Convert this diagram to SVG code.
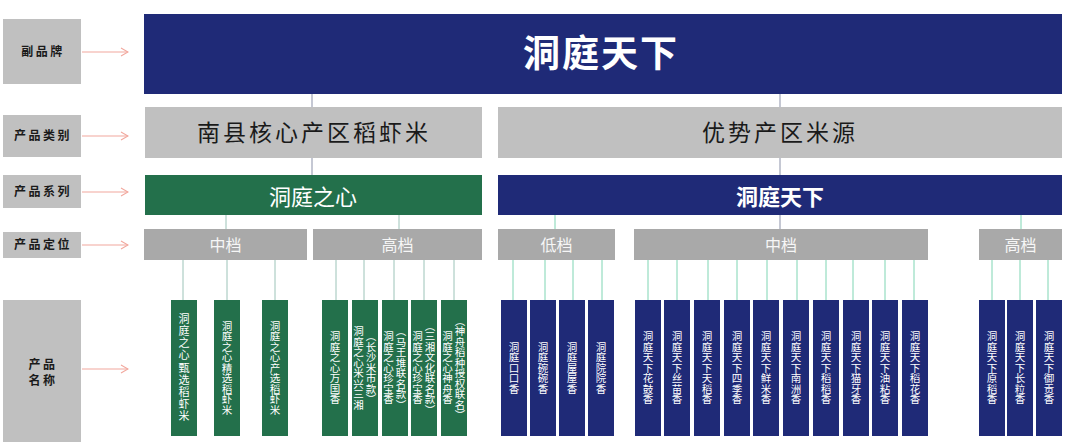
<svg xmlns="http://www.w3.org/2000/svg" width="1080" height="446" viewBox="0 0 1080 446">
<defs>
<style>
text{font-family:"Noto Sans CJK SC","Noto Sans",sans-serif;}
.lbl{fill:#c0c0c0;}
.lt{font-size:12px;font-weight:bold;fill:#1a1a1a;letter-spacing:2.5px;text-anchor:middle;}
.arr{stroke:#f2a79d;stroke-width:1.2;fill:none;}
.navy{fill:#1f2a77;}
.green{fill:#23704b;}
.cat{fill:#c0c0c0;}
.pos{fill:#a9a9a9;}
.ct{font-size:23px;fill:#1a1a1a;letter-spacing:3px;text-anchor:middle;}
.pt{font-size:16px;fill:#f6f6f6;text-anchor:middle;}
.vt{font-size:10.5px;fill:#ffffff;writing-mode:vertical-rl;text-anchor:middle;}
.c1{stroke:#8b91a8;stroke-width:1;}
.c2{stroke:#9cc3b8;stroke-width:1;}
.c3{stroke:#7fd5b3;stroke-width:1;}
</style>
<marker id="chev" viewBox="0 0 10 10" refX="9" refY="5" markerWidth="10" markerHeight="10" orient="auto" markerUnits="userSpaceOnUse">
<path d="M2,1 L9,5 L2,9" fill="none" stroke="#f2a79d" stroke-width="1.1"/>
</marker>
</defs>
<rect width="1080" height="446" fill="#ffffff"/>

<g id="labels">
<g id="label-brand"><rect class="lbl" x="3" y="19" width="78" height="65"/><text class="lt" x="43" y="56">副品牌</text></g>
<g id="label-category"><rect class="lbl" x="3" y="115" width="78" height="42"/><text class="lt" x="43" y="140">产品类别</text></g>
<g id="label-series"><rect class="lbl" x="3" y="175" width="78" height="33"/><text class="lt" x="43" y="196">产品系列</text></g>
<g id="label-position"><rect class="lbl" x="3" y="232" width="78" height="26"/><text class="lt" x="43" y="249">产品定位</text></g>
<g id="label-name"><rect class="lbl" x="3" y="300" width="78" height="142"/><text class="lt" x="43" y="369">产品</text><text class="lt" x="43" y="385">名称</text></g>
</g>

<g id="connectors">
<line class="arr" x1="82" y1="52" x2="128" y2="52" marker-end="url(#chev)"/>
<line class="arr" x1="82" y1="136" x2="128" y2="136" marker-end="url(#chev)"/>
<line class="arr" x1="82" y1="192" x2="128" y2="192" marker-end="url(#chev)"/>
<line class="arr" x1="82" y1="245" x2="128" y2="245" marker-end="url(#chev)"/>
<line class="arr" x1="82" y1="369" x2="128" y2="369" marker-end="url(#chev)"/>
<line class="c1" x1="312" y1="94" x2="312" y2="107"/>
<line class="c1" x1="312" y1="158" x2="312" y2="175"/>
<line class="c1" x1="780" y1="94" x2="780" y2="107"/>
<line class="c1" x1="780" y1="158" x2="780" y2="175"/>
<line class="c2" x1="226" y1="215" x2="226" y2="229"/>
<line class="c2" x1="399" y1="215" x2="399" y2="229"/>
<line class="c3" x1="555" y1="215" x2="555" y2="229"/>
<line class="c1" x1="780" y1="215" x2="780" y2="229"/>
<line class="c3" x1="1021" y1="215" x2="1021" y2="229"/>
<line class="c2" x1="183" y1="260" x2="183" y2="300"/>
<line class="c2" x1="227" y1="260" x2="227" y2="300"/>
<line class="c2" x1="275" y1="260" x2="275" y2="300"/>
<line class="c2" x1="336" y1="260" x2="336" y2="300"/>
<line class="c2" x1="364" y1="260" x2="364" y2="300"/>
<line class="c2" x1="394" y1="260" x2="394" y2="300"/>
<line class="c2" x1="424" y1="260" x2="424" y2="300"/>
<line class="c2" x1="454" y1="260" x2="454" y2="300"/>
<line class="c3" x1="513" y1="260" x2="513" y2="300"/>
<line class="c3" x1="545" y1="260" x2="545" y2="300"/>
<line class="c3" x1="573" y1="260" x2="573" y2="300"/>
<line class="c3" x1="602" y1="260" x2="602" y2="300"/>
<line class="c3" x1="648" y1="260" x2="648" y2="300"/>
<line class="c3" x1="677" y1="260" x2="677" y2="300"/>
<line class="c3" x1="708" y1="260" x2="708" y2="300"/>
<line class="c3" x1="737" y1="260" x2="737" y2="300"/>
<line class="c3" x1="767" y1="260" x2="767" y2="300"/>
<line class="c3" x1="797" y1="260" x2="797" y2="300"/>
<line class="c3" x1="826" y1="260" x2="826" y2="300"/>
<line class="c3" x1="853" y1="260" x2="853" y2="300"/>
<line class="c3" x1="885" y1="260" x2="885" y2="300"/>
<line class="c3" x1="914" y1="260" x2="914" y2="300"/>
<line class="c3" x1="992" y1="260" x2="992" y2="300"/>
<line class="c3" x1="1020" y1="260" x2="1020" y2="300"/>
<line class="c3" x1="1048" y1="260" x2="1048" y2="300"/>
</g>

<g id="brand"><rect class="navy" x="144" y="14" width="918" height="80"/><text x="601" y="67" font-size="37" font-weight="bold" fill="#ffffff" letter-spacing="2" text-anchor="middle">洞庭天下</text></g>

<g id="cat-left"><rect class="cat" x="145" y="107" width="337" height="51"/><text class="ct" x="314" y="141">南县核心产区稻虾米</text></g>
<g id="cat-right"><rect class="cat" x="498" y="107" width="564" height="51"/><text class="ct" x="780" y="141">优势产区米源</text></g>

<g id="series-left"><rect class="green" x="145" y="175" width="337" height="40"/><text x="313" y="205" font-size="22" fill="#ffffff" text-anchor="middle">洞庭之心</text></g>
<g id="series-right"><rect class="navy" x="498" y="175" width="564" height="40"/><text x="780" y="205" font-size="22" font-weight="bold" fill="#ffffff" text-anchor="middle">洞庭天下</text></g>

<g id="pos-mid-l"><rect class="pos" x="144" y="229" width="163" height="31"/><text class="pt" x="225.5" y="251">中档</text></g>
<g id="pos-high-l"><rect class="pos" x="313" y="229" width="169" height="31"/><text class="pt" x="397.5" y="251">高档</text></g>
<g id="pos-low-r"><rect class="pos" x="498" y="229" width="117" height="31"/><text class="pt" x="556.5" y="251">低档</text></g>
<g id="pos-mid-r"><rect class="pos" x="634" y="229" width="294" height="31"/><text class="pt" x="781" y="251">中档</text></g>
<g id="pos-high-r"><rect class="pos" x="979" y="229" width="83" height="31"/><text class="pt" x="1020.5" y="251">高档</text></g>

<g id="p1"><rect class="green" x="171" y="300" width="26" height="136"/><text class="vt" x="184" y="368" style="font-size:11px;letter-spacing:1.2px">洞庭之心甄选稻虾米</text></g>
<g id="p2"><rect class="green" x="214" y="300" width="26" height="136"/><text class="vt" x="227" y="368">洞庭之心精选稻虾米</text></g>
<g id="p3"><rect class="green" x="262" y="300" width="26" height="136"/><text class="vt" x="275" y="368">洞庭之心产选稻虾米</text></g>
<g id="p4"><rect class="green" x="322" y="300" width="26" height="136"/><text class="vt" x="335" y="368">洞庭之心万国香</text></g>
<g id="p5"><rect class="green" x="352" y="300" width="26" height="136"/><text class="vt" x="358.5" y="368">洞庭之心米兴三湘</text><text class="vt" x="371" y="368">（长沙米市款）</text></g>
<g id="p6"><rect class="green" x="382" y="300" width="26" height="136"/><text class="vt" x="388.5" y="368">洞庭之心珍宝香</text><text class="vt" x="401" y="368">（马王堆联名款）</text></g>
<g id="p7"><rect class="green" x="411" y="300" width="26" height="136"/><text class="vt" x="417.5" y="368">洞庭之心珍宝香</text><text class="vt" x="430" y="368">（三湘文化联名款）</text></g>
<g id="p8"><rect class="green" x="441" y="300" width="26" height="136"/><text class="vt" x="447.5" y="368">洞庭之心神舟香</text><text class="vt" x="460" y="368">（神舟稻种授权联名）</text></g>

<g id="p9"><rect class="navy" x="501" y="300" width="26" height="136"/><text class="vt" x="514" y="368">洞庭口口香</text></g>
<g id="p10"><rect class="navy" x="530" y="300" width="26" height="136"/><text class="vt" x="543" y="368">洞庭碗碗香</text></g>
<g id="p11"><rect class="navy" x="559" y="300" width="26" height="136"/><text class="vt" x="572" y="368">洞庭屋屋香</text></g>
<g id="p12"><rect class="navy" x="588" y="300" width="26" height="136"/><text class="vt" x="601" y="368">洞庭院院香</text></g>

<g id="p13"><rect class="navy" x="635" y="300" width="26" height="136"/><text class="vt" x="648" y="368">洞庭天下花鼓香</text></g>
<g id="p14"><rect class="navy" x="664" y="300" width="26" height="136"/><text class="vt" x="677" y="368">洞庭天下丝苗香</text></g>
<g id="p15"><rect class="navy" x="694" y="300" width="26" height="136"/><text class="vt" x="707" y="368">洞庭天下天稻香</text></g>
<g id="p16"><rect class="navy" x="724" y="300" width="26" height="136"/><text class="vt" x="737" y="368">洞庭天下四季香</text></g>
<g id="p17"><rect class="navy" x="753" y="300" width="26" height="136"/><text class="vt" x="766" y="368">洞庭天下鲜米香</text></g>
<g id="p18"><rect class="navy" x="783" y="300" width="26" height="136"/><text class="vt" x="796" y="368">洞庭天下南洲香</text></g>
<g id="p19"><rect class="navy" x="813" y="300" width="26" height="136"/><text class="vt" x="826" y="368">洞庭天下稻稻香</text></g>
<g id="p20"><rect class="navy" x="843" y="300" width="26" height="136"/><text class="vt" x="856" y="368">洞庭天下猫牙香</text></g>
<g id="p21"><rect class="navy" x="872" y="300" width="26" height="136"/><text class="vt" x="885" y="368">洞庭天下油粘香</text></g>
<g id="p22"><rect class="navy" x="902" y="300" width="26" height="136"/><text class="vt" x="915" y="368">洞庭天下稻花香</text></g>

<g id="p23"><rect class="navy" x="979" y="300" width="26" height="136"/><text class="vt" x="992" y="368">洞庭天下原稻香</text></g>
<g id="p24"><rect class="navy" x="1007" y="300" width="26" height="136"/><text class="vt" x="1020" y="368">洞庭天下长粒香</text></g>
<g id="p25"><rect class="navy" x="1036" y="300" width="26" height="136"/><text class="vt" x="1049" y="368">洞庭天下御贡香</text></g>
</svg>
